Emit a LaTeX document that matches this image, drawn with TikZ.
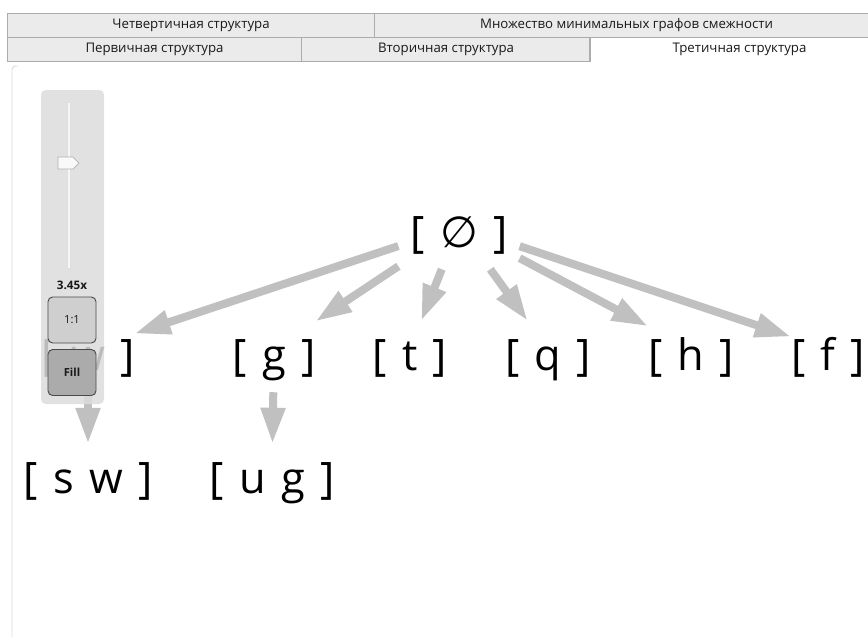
\documentclass[tikz,border=0pt]{standalone}
\usepackage{fontspec}
\setmainfont{Open Sans}
\newfontfamily\symfont{DejaVu Sans}
\usetikzlibrary{arrows.meta}
\usetikzlibrary{positioning}
\definecolor{tabfill}{HTML}{EBEBEB}
\definecolor{tabline}{HTML}{ACACAC}
\definecolor{edgec}{HTML}{C0C0C0}
\definecolor{panelc}{HTML}{DCDCDC}
\definecolor{framec}{HTML}{D5DCE4}
\definecolor{btnline}{HTML}{4A4A4A}
% big labels with wider word gaps
\newcommand\setfont{\fontsize{37}{40}\selectfont\spaceskip=13pt\relax}

\begin{document}
\begin{tikzpicture}[x=0.03cm, y=-0.03cm,
		tab/.style = {rectangle, draw=tabline, fill=tabfill, line width=0.9pt, minimum height=0.72cm, inner sep=0pt, anchor=north west, text=black!90, font=\fontsize{11.3}{13}\selectfont},
		set/.style = {rectangle, inner sep=0pt, minimum height=1.68cm, text height=1.26cm, text depth=0pt, font=\setfont},
		top/.style = {set, inner xsep=0.36cm, minimum height=2.58cm},
		btn/.style = {rectangle, rounded corners=4pt, draw=btnline, line width=0.8pt, minimum width=1.44cm, minimum height=1.38cm, text=black!90},
		e/.style = {-{Triangle[length=1.08cm, width=0.69cm]}, draw=edgec, line width=0.24cm},
		]
		
		\useasboundingbox (0,0) rectangle (868,637);
		\fill[white] (0,0) rectangle (868,637);
		
		% === === Tabs === ===
		\node[tab, minimum width=11.01cm]	(tq)	at	(7, 13)		{Четвертичная структура};
		\node[tab, minimum width=15.12cm]	(tm)	at	(374, 13)	{Множество минимальных графов смежности};
		\node[tab, minimum width=8.82cm]	(tp)	at	(7, 37)		{Первичная структура};
		\node[tab, minimum width=8.67cm]	(tv)	at	(301, 37)	{Вторичная структура};
		\node[tab, fill=white, draw=none, minimum width=8.94cm, minimum height=0.7cm] (tt) at (590, 37.5) {Третичная структура};
		\draw[tabline, line width=0.9pt] (tt.north west) -- (tt.south west);
		\draw[framec, line width=0.8pt, rounded corners=3pt] (12, 637) -- (12, 66) -- (18, 66);
		
		% === === Nodes === ===
		\node[top]	(root)	at	(459, 226)	{[ {\symfont ∅} ]};
		\node[set]	(w)		at	(88, 349)	{[ w ]};
		\node[set]	(g)		at	(274, 349)	{[ g ]};
		\node[set]	(t)		at	(410, 349)	{[ t ]};
		\node[set]	(q)		at	(548, 349)	{[ q ]};
		\node[set]	(h)		at	(691, 349)	{[ h ]};
		\node[set]	(f)		at	(828, 349)	{[ f ]};
		\node[set]	(sw)	at	(88, 472)	{[ s w ]};
		\node[set]	(ug)	at	(272, 472)	{[ u g ]};
		
		% === === Lines === ===
		\draw[e]	(root)	--	(w);
		\draw[e]	(root)	--	(g);
		\draw[e]	(root)	--	(t);
		\draw[e]	(root)	--	(q);
		\draw[e]	(root)	--	(h);
		\draw[e]	(root)	--	(f);
		\draw[e, shorten <=0.45cm]	(w)	--	(sw);
		\draw[e, shorten <=0.45cm]	(g)	--	(ug);
		
		% === === Zoom panel === ===
		\fill[panelc, fill opacity=0.85, rounded corners=4pt] (41, 90) rectangle (104, 404);
		\filldraw[fill=white!75!panelc, draw=gray!25, line width=0.4pt] (67, 102) rectangle (70, 268);
		\foreach \yy in {102, 110, ..., 182}
			\fill[gray!30] (84, \yy) rectangle (86, \yy+1);
		\filldraw[fill=gray!5, draw=gray!60, line width=0.6pt] (58, 157) -- (73, 157) -- (79, 163) -- (73, 169) -- (58, 169) -- cycle;
		\node[font=\bfseries\fontsize{10}{12}\selectfont, text=black!90] (zval) at (72, 285) {3.45x};
		\node[btn, fill=gray!38, font=\fontsize{9.5}{11}\selectfont]	(one)	at	(72, 320)	{1:1};
		\node[btn, fill=gray!66, font=\bfseries\fontsize{9.5}{11}\selectfont]	(fit)	at	(72, 372.5)	{Fill};
		
	\end{tikzpicture}
\end{document}
